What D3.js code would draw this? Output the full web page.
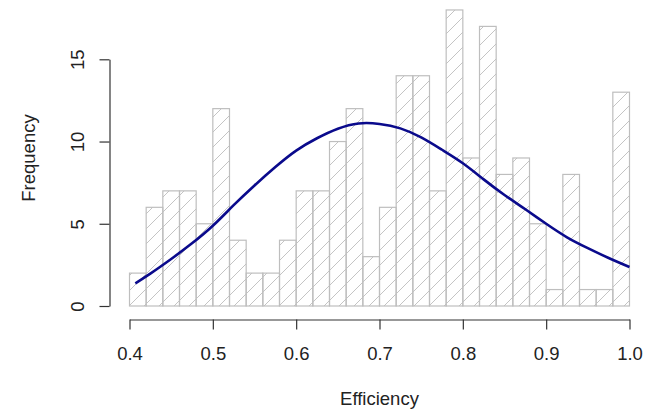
<!DOCTYPE html>
<html>
<head>
<meta charset="utf-8">
<script src="https://cdn.jsdelivr.net/npm/d3@7"></script>
<style>
  html, body { margin: 0; padding: 0; background: #fff; }
  svg { display: block; }
  text { font-family: "Liberation Sans", Arial, Helvetica, sans-serif; fill: #222; }
</style>
</head>
<body>
<svg id="chart" width="654" height="412"></svg>
<script>
// Histogram bins: 0.40 to 1.00 in steps of 0.02
const binStarts = d3.range(30).map(i => +(0.4 + i * 0.02).toFixed(2));
const binWidth = 0.02;
const counts = [2, 6, 7, 7, 5, 12, 4, 2, 2, 4,
                7, 7, 10, 12, 3, 6, 14, 14, 7, 18,
                9, 17, 8, 9, 5, 1, 8, 1, 1, 13];

// Fitted density curve, scaled to frequency
const curveX = [0.407, 0.425, 0.45, 0.475, 0.5, 0.525, 0.55, 0.575, 0.6, 0.625,
                0.65, 0.675, 0.7, 0.725, 0.75, 0.775, 0.8, 0.825, 0.85, 0.875,
                0.9, 0.925, 0.95, 0.975, 1.0];
const curveY = [1.38, 1.97, 2.86, 3.81, 4.88, 6.13, 7.33, 8.45, 9.45, 10.2,
                10.78, 11.1, 11.07, 10.8, 10.25, 9.5, 8.68, 7.7, 6.75, 5.88,
                5.0, 4.18, 3.52, 2.92, 2.37];

const xTicks = [0.4, 0.5, 0.6, 0.7, 0.8, 0.9, 1.0];
const yTicks = [0, 5, 10, 15];

const svg = d3.select("#chart");
const x = d3.scaleLinear().domain([0.4, 1.0]).range([129.5, 629.5]);
const y = d3.scaleLinear().domain([0, 15]).range([306, 59.3]);

// Diagonal hatch pattern shared across all bars
const s = 15;
const defs = svg.append("defs");
defs.append("pattern")
  .attr("id", "hatch")
  .attr("patternUnits", "userSpaceOnUse")
  .attr("width", s).attr("height", s)
  .append("path")
  .attr("d", `M-2,2 L2,-2 M0,${s} L${s},0 M${s - 2},${s + 2} L${s + 2},${s - 2}`)
  .attr("stroke", "#c4c4c4")
  .attr("stroke-width", 1)
  .attr("fill", "none");

// Bars
svg.append("g").selectAll("rect")
  .data(counts)
  .join("rect")
  .attr("x", (d, i) => x(binStarts[i]))
  .attr("width", (d, i) => x(binStarts[i] + binWidth) - x(binStarts[i]))
  .attr("y", d => y(d))
  .attr("height", d => y(0) - y(d))
  .attr("fill", "url(#hatch)")
  .attr("stroke", "#bebebe")
  .attr("stroke-width", 1.2);

// Density curve
const line = d3.line()
  .x((d, i) => x(curveX[i]))
  .y(d => y(d))
  .curve(d3.curveNatural);
svg.append("path")
  .datum(curveY)
  .attr("d", line)
  .attr("fill", "none")
  .attr("stroke", "#0a0a8c")
  .attr("stroke-width", 2.6);

// X axis
const xAxis = svg.append("g")
  .attr("transform", "translate(0,319.5)")
  .call(d3.axisBottom(x).tickValues(xTicks).tickFormat(d3.format(".1f")).tickSize(10).tickSizeOuter(0));
xAxis.select(".domain").attr("stroke", "#333").attr("stroke-width", 1.2);
xAxis.selectAll(".tick line").attr("stroke", "#333").attr("stroke-width", 1.2);
xAxis.selectAll(".tick text")
  .attr("y", 40).attr("dy", 0)
  .style("font-size", "18.5px")
  .style("font-family", "'Liberation Sans', Arial, sans-serif")
  .attr("fill", "#222");

// Y axis
const yAxis = svg.append("g")
  .attr("transform", "translate(109.5,0)")
  .call(d3.axisLeft(y).tickValues(yTicks).tickSize(10).tickSizeOuter(0));
yAxis.select(".domain").attr("stroke", "#333").attr("stroke-width", 1.2);
yAxis.selectAll(".tick line").attr("stroke", "#333").attr("stroke-width", 1.2);
yAxis.selectAll(".tick text")
  .attr("x", 0).attr("dy", 0)
  .attr("text-anchor", "middle")
  .attr("transform", "translate(-26,0) rotate(-90)")
  .style("font-size", "18.5px")
  .style("font-family", "'Liberation Sans', Arial, sans-serif")
  .attr("fill", "#222");

// Axis titles
svg.append("text")
  .attr("x", 379.5).attr("y", 404.5)
  .attr("text-anchor", "middle")
  .style("font-size", "18.5px")
  .text("Efficiency");

svg.append("text")
  .attr("transform", "translate(34.5,158) rotate(-90)")
  .attr("text-anchor", "middle")
  .style("font-size", "18.5px")
  .text("Frequency");
</script>
</body>
</html>
